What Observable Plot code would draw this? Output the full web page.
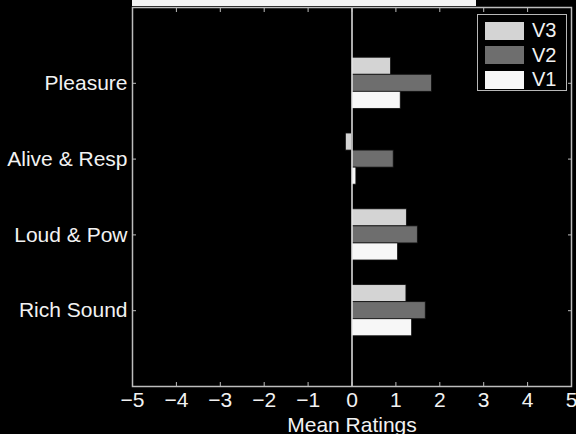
<!DOCTYPE html>
<html>
<head>
<meta charset="utf-8">
<script src="https://cdn.jsdelivr.net/npm/d3@7"></script>
<script src="https://cdn.jsdelivr.net/npm/@observablehq/plot@0.6"></script>
<style>
  html, body { margin: 0; padding: 0; background: #000; }
  #wrap { position: relative; width: 576px; height: 434px; overflow: hidden; background: #000; font-family: "Liberation Sans", Arial, sans-serif; }
  #strip { position: absolute; left: 132px; top: 0; width: 344px; height: 6px; background: #f4f4f4; }
  #legend { position: absolute; left: 477px; top: 14px; width: 88px; height: 75px; border: 1px solid #b8b8b8; background: #000; }
  .lg-row { position: absolute; left: 7px; height: 19px; display: flex; align-items: center; }
  .lg-sw { width: 39px; height: 18px; }
  .lg-tx { margin-left: 8px; color: #f2f2f2; font-size: 20px; line-height: 19px; }
</style>
</head>
<body>
<div id="wrap"><div id="strip"></div></div>
<script>
// ---- data ----
const categories = ["Pleasure", "Alive & Resp", "Loud & Pow", "Rich Sound"];
const seriesNames = ["V3", "V2", "V1"];           // top-to-bottom order within a group
const seriesColors = ["#d4d4d4", "#6e6e6e", "#f7f7f7"];
const v3 = [0.89, -0.14, 1.25, 1.24];
const v2 = [1.82, 0.95, 1.50, 1.68];
const v1 = [1.11, 0.10, 1.05, 1.37];
const xTicks = [-5, -4, -3, -2, -1, 0, 1, 2, 3, 4, 5];
const xLabel = "Mean Ratings";

const seriesValues = [v3, v2, v1];
const barH = 0.225;
// category i sits at position (n - i) on a 0..n+1 axis
const n = categories.length;
const rows = [];
categories.forEach((c, i) => {
  seriesNames.forEach((s, j) => {
    const center = (n - i) + (1 - j) * barH;
    rows.push({cat: c, series: s, value: seriesValues[j][i], y1: center - barH / 2, y2: center + barH / 2});
  });
});
const yTickPos = categories.map((c, i) => n - i);
const yTickLabel = new Map(categories.map((c, i) => [n - i, c]));

const txt = "#f2f2f2";
const axisCol = "#bdbdbd";

const chart = Plot.plot({
  width: 576,
  height: 434,
  marginLeft: 132,
  marginRight: 5,
  marginTop: 7,
  marginBottom: 48,
  style: {background: "transparent", color: txt, fontFamily: "'Liberation Sans', Arial, sans-serif", fontSize: "21px"},
  x: {domain: [-5, 5]},
  y: {domain: [0, n + 1]},
  color: {domain: seriesNames, range: seriesColors},
  marks: [
    Plot.rectX(rows, {x1: 0, x2: "value", y1: "y1", y2: "y2", fill: "series", stroke: "#111", strokeWidth: 0.8}),
    Plot.ruleX([0], {stroke: "#e6e6e6", strokeWidth: 1.5}),
    Plot.frame({stroke: axisCol, strokeWidth: 1.5}),
    // labels
    Plot.axisX(xTicks, {anchor: "bottom", tickSize: 0, tickPadding: 6, label: null, fill: txt, fontSize: 21}),
    Plot.axisY(yTickPos, {anchor: "left", tickSize: 0, tickPadding: 5, label: null, tickFormat: d => yTickLabel.get(d), fill: txt, fontSize: 21}),
    // inward ticks
    Plot.axisX(xTicks, {anchor: "bottom", tickSize: -4, tickFormat: () => "", label: null, stroke: axisCol}),
    Plot.axisX(xTicks, {anchor: "top", tickSize: -4, tickFormat: () => "", label: null, stroke: axisCol}),
    Plot.axisY(yTickPos, {anchor: "left", tickSize: -4, tickFormat: () => "", label: null, stroke: axisCol}),
    Plot.axisY(yTickPos, {anchor: "right", tickSize: -4, tickFormat: () => "", label: null, stroke: axisCol}),
    Plot.text([xLabel], {frameAnchor: "bottom", dy: 45, text: d => d, fill: txt, fontSize: 21})
  ]
});

const wrap = document.getElementById("wrap");
wrap.insertBefore(chart, wrap.firstChild);
chart.style.position = "absolute";
chart.style.left = "0";
chart.style.top = "0";

// legend built from series
const legend = document.createElement("div");
legend.id = "legend";
seriesNames.forEach((s, j) => {
  const row = document.createElement("div");
  row.className = "lg-row";
  row.style.top = (6 + j * 24.5) + "px";
  const sw = document.createElement("div");
  sw.className = "lg-sw";
  sw.style.background = seriesColors[j];
  const tx = document.createElement("span");
  tx.className = "lg-tx";
  tx.textContent = s;
  row.appendChild(sw);
  row.appendChild(tx);
  legend.appendChild(row);
});
wrap.appendChild(legend);
</script>
</body>
</html>
